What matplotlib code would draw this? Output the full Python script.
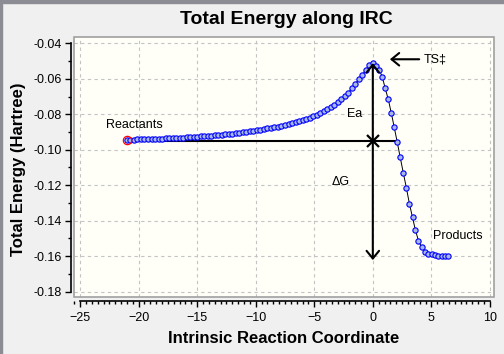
import matplotlib
matplotlib.use("Agg")
import matplotlib.pyplot as plt
from matplotlib.patches import Rectangle
from matplotlib.ticker import MultipleLocator

plt.rcParams["font.family"] = ["Liberation Sans", "DejaVu Sans"]

# IRC points (reaction coordinate, total energy in Hartree)
irc_x = [-21.0, -20.7, -20.4, -20.1, -19.8, -19.5, -19.2, -18.9, -18.6, -18.3,
         -18.0, -17.7, -17.4, -17.1, -16.8, -16.5, -16.2, -15.9, -15.6, -15.3,
         -15.0, -14.7, -14.4, -14.1, -13.8, -13.5, -13.2, -12.9, -12.6, -12.3,
         -12.0, -11.7, -11.4, -11.1, -10.8, -10.5, -10.2, -9.9, -9.6, -9.3,
         -9.0, -8.7, -8.4, -8.1, -7.8, -7.5, -7.2, -6.9, -6.6, -6.3,
         -6.0, -5.7, -5.4, -5.1, -4.8, -4.5, -4.2, -3.9, -3.6, -3.3,
         -3.0, -2.7, -2.4, -2.1, -1.8, -1.5, -1.2, -0.9, -0.6, -0.3,
         0.0, 0.29, 0.55, 0.80, 1.06, 1.32, 1.58, 1.83, 2.08, 2.34,
         2.60, 2.87, 3.13, 3.39, 3.64, 3.90, 4.17, 4.45, 4.73, 5.02,
         5.30, 5.58, 5.87, 6.16, 6.44]
irc_e = [-0.0945, -0.0944, -0.0943, -0.0942, -0.0941, -0.0941, -0.0940, -0.0939, -0.0938, -0.0937,
         -0.0937, -0.0936, -0.0935, -0.0934, -0.0933, -0.0932, -0.0931, -0.0930, -0.0929, -0.0928,
         -0.0927, -0.0925, -0.0924, -0.0922, -0.0921, -0.0919, -0.0917, -0.0915, -0.0913, -0.0911,
         -0.0909, -0.0906, -0.0904, -0.0901, -0.0899, -0.0896, -0.0893, -0.0890, -0.0887, -0.0884,
         -0.0880, -0.0877, -0.0873, -0.0869, -0.0865, -0.0860, -0.0855, -0.0850, -0.0845, -0.0839,
         -0.0833, -0.0826, -0.0819, -0.0811, -0.0802, -0.0793, -0.0783, -0.0772, -0.0760, -0.0747,
         -0.0732, -0.0716, -0.0699, -0.0680, -0.0652, -0.0628, -0.0603, -0.0577, -0.0550, -0.0524,
         -0.0512, -0.0527, -0.0550, -0.0588, -0.0654, -0.0716, -0.0793, -0.0874, -0.0955, -0.1043,
         -0.1129, -0.1216, -0.1306, -0.1381, -0.1454, -0.1512, -0.1550, -0.1575, -0.1586, -0.1590,
         -0.1593, -0.1597, -0.1599, -0.1600, -0.1600]

reactant_x, reactant_e = -21.0, -0.0945
ts_x, ts_e = 0.0, -0.0512
ref_e = -0.095          # level of the horizontal reference line
line_end_x = 2.12       # where the horizontal line meets the curve
dg_end_e = -0.1622      # bottom of the Delta G arrow

fig = plt.figure(figsize=(5.04, 3.54), dpi=100, facecolor="#f0f0f0")
ax = fig.add_axes([74 / 504, 57 / 354, 420 / 504, 260 / 354])
ax.set_facecolor("#fffff8")

ax.set_xlim(-25.52, 10.35)
ax.set_ylim(-0.183, -0.03645)

# frame of the plot area
ax.add_patch(Rectangle((0, 0), 1, 1, transform=ax.transAxes, fill=False,
                       edgecolor="#a0a0a0", lw=1.2, clip_on=False, zorder=5))
ax.spines["top"].set_visible(False)
ax.spines["right"].set_visible(False)
ax.spines["left"].set_position(("outward", 2.2))
ax.spines["bottom"].set_position(("outward", 3))
ax.spines["left"].set_bounds(-0.18, -0.04)
ax.spines["bottom"].set_bounds(-25, 10)
for s in ("left", "bottom"):
    ax.spines[s].set_linewidth(1.2)

ax.xaxis.set_major_locator(MultipleLocator(5))
ax.xaxis.set_minor_locator(MultipleLocator(0.5))
ax.yaxis.set_major_locator(MultipleLocator(0.02))
ax.yaxis.set_minor_locator(MultipleLocator(0.01))
ax.yaxis.set_major_formatter(lambda v, p: f"{v:.2f}")
ax.tick_params(which="major", length=4.3, width=1, labelsize=9, direction="out")
ax.tick_params(which="minor", length=2.2, width=1, direction="out")
ax.tick_params(axis="y", pad=2)

ax.grid(True, which="major", color="#c4c4c4", linestyle=(0, (3, 3)), lw=0.8)
ax.set_axisbelow(True)

# IRC curve
ax.plot(irc_x, irc_e, color="black", lw=0.7, marker="o", ms=3.8,
        mfc="#a8b8e4", mec="#0000ff", mew=0.8, zorder=3)
ax.plot([reactant_x], [reactant_e], "o", ms=6, mfc="none", mec="red", mew=0.9, zorder=4)

# annotations
ax.plot([reactant_x, line_end_x], [ref_e, ref_e], color="black", lw=1.5, zorder=2)
ax.plot([ts_x], [ref_e], "x", color="black", ms=9, mew=1.6, zorder=4)
arrow = dict(arrowstyle="->,head_length=0.55,head_width=0.45", color="black", lw=1.5,
             shrinkA=0, shrinkB=0)
ax.annotate("", xy=(ts_x, ts_e), xytext=(ts_x, ref_e), arrowprops=arrow, zorder=4)
ax.annotate("", xy=(ts_x, dg_end_e), xytext=(ts_x, ref_e), arrowprops=arrow, zorder=4)
ax.annotate("", xy=(1.46, -0.049), xytext=(3.96, -0.049), arrowprops=arrow, zorder=4)

ax.text(4.36, -0.049, "TS‡", fontsize=9, ha="left", va="center")
ax.text(-1.53, -0.0799, "Ea", fontsize=9, ha="center", va="center")
ax.text(-2.73, -0.1184, "ΔG", fontsize=9, ha="center", va="center")
ax.text(-20.36, -0.0859, "Reactants", fontsize=9, ha="center", va="center")
ax.text(7.24, -0.1486, "Products", fontsize=9, ha="center", va="center")

fig.text(286 / 504, 1 - 20 / 354, "Total Energy along IRC", fontsize=14,
         fontweight="bold", ha="center", va="center")
ax.set_xlabel("Intrinsic Reaction Coordinate", fontsize=12, fontweight="bold")
ax.xaxis.set_label_coords(0.5, -0.158)
ax.xaxis.label.set_va("center")
ax.set_ylabel("Total Energy (Hartree)", fontsize=12, fontweight="bold")
ax.yaxis.set_label_coords(-0.133, 0.49)
ax.yaxis.label.set_va("center")

# window border
fig.patches.append(Rectangle((0, 1 - 3 / 354), 1, 3 / 354, transform=fig.transFigure,
                             color="#8c8c94", zorder=0))
fig.patches.append(Rectangle((0, 0), 2 / 504, 1, transform=fig.transFigure,
                             color="#8c8c94", zorder=0))

fig.savefig("out.png", dpi=100, facecolor=fig.get_facecolor())
